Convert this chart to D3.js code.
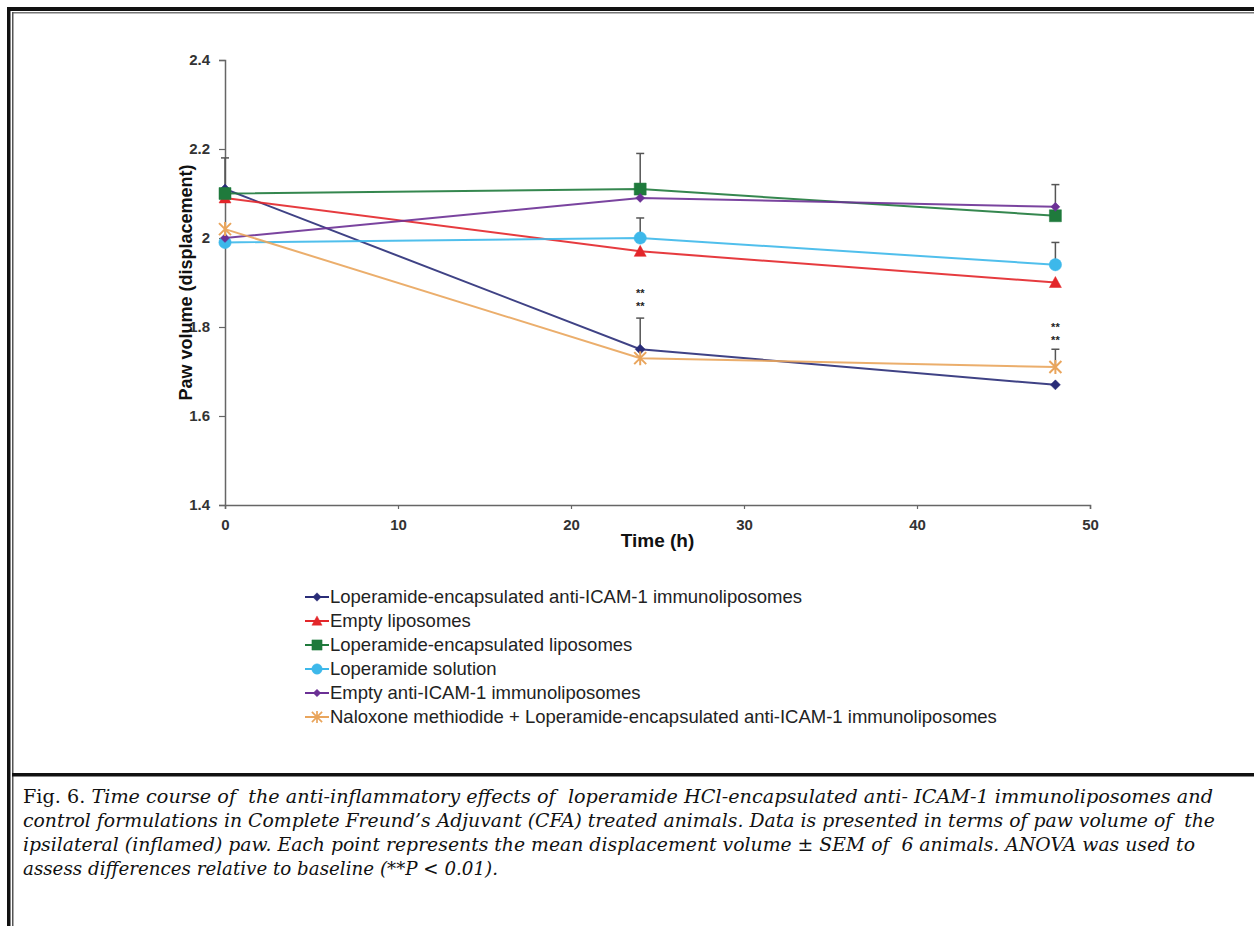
<!DOCTYPE html>
<html>
<head>
<meta charset="utf-8">
<script src="https://cdn.jsdelivr.net/npm/d3@7"></script>
<style>
  body { margin: 0; background: #fff; }
  svg { display: block; }
</style>
</head>
<body>
<div id="chart"></div>
<script>
// data
var hours = [0, 24, 48];
var seriesNames = [
  "Loperamide-encapsulated anti-ICAM-1 immunoliposomes",
  "Empty liposomes",
  "Loperamide-encapsulated liposomes",
  "Loperamide solution",
  "Empty anti-ICAM-1 immunoliposomes",
  "Naloxone methiodide + Loperamide-encapsulated anti-ICAM-1 immunoliposomes"
];
var loperamideImmuno = [2.11, 1.75, 1.67];
var emptyLipo = [2.09, 1.97, 1.90];
var loperamideLipo = [2.10, 2.11, 2.05];
var loperamideSol = [1.99, 2.00, 1.94];
var emptyImmuno = [2.00, 2.09, 2.07];
var naloxone = [2.02, 1.73, 1.71];

// upper SEM bars
var loperamideImmunoErr = [0.07, 0.07, 0];
var emptyLipoErr = [0, 0, 0];
var loperamideLipoErr = [0, 0.08, 0];
var loperamideSolErr = [0, 0.045, 0.05];
var emptyImmunoErr = [0, 0, 0.05];
var naloxoneErr = [0, 0, 0.04];

var sigHours = [24, 48];
var sigLevel = [1.868, 1.792];

var xTicks = [0, 10, 20, 30, 40, 50];
var yTicks = [1.4, 1.6, 1.8, 2, 2.2, 2.4];

var colors = ["#2a2d78", "#e3262a", "#1f7a3c", "#3db8ea", "#6b3095", "#e9a55c"];
var shapes = ["diamond", "triangle", "square", "circle", "diamondSmall", "star"];

var series = seriesNames.map(function(n, i) {
  var v = [loperamideImmuno, emptyLipo, loperamideLipo, loperamideSol, emptyImmuno, naloxone][i];
  var e = [loperamideImmunoErr, emptyLipoErr, loperamideLipoErr, loperamideSolErr, emptyImmunoErr, naloxoneErr][i];
  return {name: n, color: colors[i], shape: shapes[i],
          pts: hours.map(function(h, j) { return {h: h, v: v[j], e: e[j]}; })};
});

var W = 1254, H = 926;
var svg = d3.select("#chart").append("svg").attr("width", W).attr("height", H);

// frame
svg.append("rect").attr("x", 7).attr("y", 7).attr("width", W - 7).attr("height", 4).attr("fill", "#111");
svg.append("rect").attr("x", 12).attr("y", 12).attr("width", W - 12).attr("height", 1.5).attr("fill", "#777");
svg.append("rect").attr("x", 7).attr("y", 7).attr("width", 3.5).attr("height", H - 7).attr("fill", "#111");
svg.append("rect").attr("x", 12).attr("y", 12).attr("width", 1.5).attr("height", H - 12).attr("fill", "#555");
svg.append("rect").attr("x", 12).attr("y", 773).attr("width", W - 12).attr("height", 3.5).attr("fill", "#111");

var x = d3.scaleLinear().domain([0, 50]).range([225, 1090]);
var y = d3.scaleLinear().domain([1.4, 2.4]).range([505, 60]);

var axisColor = "#666";
var font = "Arial, 'Liberation Sans', sans-serif";
var gx = svg.append("g").attr("transform", "translate(0," + y(1.4) + ")")
  .call(d3.axisBottom(x).tickValues(xTicks).tickSize(4).tickPadding(10).tickFormat(d3.format("d")));
var gy = svg.append("g").attr("transform", "translate(" + x(0) + ",0)")
  .call(d3.axisLeft(y).tickValues(yTicks).tickSize(6).tickPadding(9).tickFormat(function(d) { return d === 2 ? "2" : d3.format(".1f")(d); }));
[gx, gy].forEach(function(g) {
  g.select(".domain").attr("stroke", axisColor).attr("stroke-width", 1.5);
  g.selectAll(".tick line").attr("stroke", axisColor).attr("stroke-width", 1.2);
  g.selectAll(".tick text").attr("fill", "#333").style("font-family", font)
    .style("font-size", "15px").style("font-weight", "bold");
});

svg.append("text").attr("transform", "translate(192," + y(1.9) + ") rotate(-90)")
  .attr("text-anchor", "middle")
  .style("font-family", font).style("font-size", "18px").style("font-weight", "bold")
  .attr("fill", "#111").text("Paw volume (displacement)");
svg.append("text").attr("x", x(25)).attr("y", 547).attr("text-anchor", "middle")
  .style("font-family", font).style("font-size", "19px").style("font-weight", "bold")
  .attr("fill", "#111").text("Time (h)");

function markerPath(shape) {
  if (shape === "diamond") return "M0,-5L5,0L0,5L-5,0Z";
  if (shape === "diamondSmall") return "M0,-4.5L4.5,0L0,4.5L-4.5,0Z";
  if (shape === "triangle") return "M0,-6L6,5L-6,5Z";
  if (shape === "square") return "M-6,-6H6V6H-6Z";
  if (shape === "circle") return d3.symbol(d3.symbolCircle, 120)();
  return "M-6,-6L6,6M-6,6L6,-6M0,-7V7";
}
function drawMarker(g, s) {
  var p = g.append("path").attr("d", markerPath(s.shape));
  if (s.shape === "star") p.attr("fill", "none").attr("stroke", s.color).attr("stroke-width", 2);
  else p.attr("fill", s.color).attr("stroke", s.color).attr("stroke-width", 0.5);
}

var line = d3.line().x(function(d) { return x(d.h); }).y(function(d) { return y(d.v); });

// lines
series.forEach(function(s) {
  svg.append("path").datum(s.pts).attr("d", line).attr("fill", "none")
    .attr("stroke", s.color).attr("stroke-width", 2).attr("stroke-opacity", 0.9);
});

// error bars (upper only)
series.forEach(function(s) {
  s.pts.filter(function(d) { return d.e > 0; }).forEach(function(d) {
    svg.append("line").attr("x1", x(d.h)).attr("x2", x(d.h)).attr("y1", y(d.v)).attr("y2", y(d.v + d.e))
      .attr("stroke", "#555").attr("stroke-width", 1.5);
    svg.append("line").attr("x1", x(d.h) - 4).attr("x2", x(d.h) + 4).attr("y1", y(d.v + d.e)).attr("y2", y(d.v + d.e))
      .attr("stroke", "#555").attr("stroke-width", 1.5);
  });
});

// markers
series.forEach(function(s) {
  s.pts.forEach(function(d) {
    var g = svg.append("g").attr("transform", "translate(" + x(d.h) + "," + y(d.v) + ")");
    drawMarker(g, s);
  });
});

// significance marks, two stacked rows of "**"
sigHours.forEach(function(h, i) {
  [0, 13].forEach(function(dy) {
    svg.append("text").attr("x", x(h)).attr("y", y(sigLevel[i]) + dy).attr("text-anchor", "middle")
      .style("font-family", font).style("font-size", "11px").style("font-weight", "bold")
      .attr("fill", "#222").text("**");
  });
});

// legend
var legend = svg.append("g").attr("transform", "translate(305,597)");
series.forEach(function(s, i) {
  var g = legend.append("g").attr("transform", "translate(0," + i * 24 + ")");
  g.append("line").attr("x1", 0).attr("x2", 24).attr("stroke", s.color).attr("stroke-width", 2);
  var m = g.append("g").attr("transform", "translate(12,0) scale(0.85)");
  drawMarker(m, s);
  g.append("text").attr("x", 25).attr("y", 6)
    .style("font-family", font).style("font-size", "18.5px")
    .attr("fill", "#222").text(s.name);
});

// caption
var capLines = [
  ["Fig. 6. ", "Time course of  the anti-inflammatory effects of  loperamide HCl-encapsulated anti- ICAM-1 immunoliposomes and"],
  ["", "control formulations in Complete Freund\u2019s Adjuvant (CFA) treated animals. Data is presented in terms of paw volume of  the"],
  ["", "ipsilateral (inflamed) paw. Each point represents the mean displacement volume \u00b1 SEM of  6 animals. ANOVA was used to"],
  ["", "assess differences relative to baseline (**P < 0.01)."]
];
var capWidths = [1190, 1192, 1172, 475];
capLines.forEach(function(l, i) {
  var t = svg.append("text").attr("x", 23).attr("y", 803 + i * 24)
    .attr("textLength", capWidths[i]).attr("lengthAdjust", "spacingAndGlyphs")
    .style("font-family", "'DejaVu Serif', 'Liberation Serif', serif").style("font-size", "18px")
    .attr("fill", "#111").attr("xml:space", "preserve").style("white-space", "pre");
  if (l[0]) t.append("tspan").text(l[0]);
  t.append("tspan").style("font-style", "italic").text(l[1]);
});
</script>
</body>
</html>
